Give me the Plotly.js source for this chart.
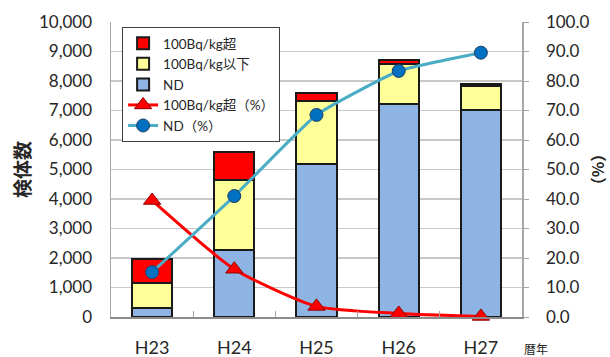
<!DOCTYPE html>
<html>
<head>
<meta charset="utf-8">
<script src="https://cdn.plot.ly/plotly-3.0.1.min.js"></script>
<style>html,body{margin:0;padding:0;background:#fff;}#chart{width:610px;height:357px;}</style>
</head>
<body>
<div id="chart"></div>
<script>
// Data
const years = ['H23', 'H24', 'H25', 'H26', 'H27'];
const ndCount = [300, 2260, 5200, 7230, 7030];
const below100Count = [850, 2400, 2130, 1360, 810];
const over100Count = [830, 950, 270, 110, 70];
const over100Pct = [39.5, 16.2, 3.6, 1.2, 0.2];
const ndPct = [15.2, 41.0, 68.5, 83.4, 89.6];

const labelFont = {family: 'Lato, "Noto Sans CJK JP", sans-serif', size: 17, color: '#262626'};
const cjk = '"Noto Sans CJK JP", sans-serif';

const barLine = {color: '#1a1a1a', width: 2};

const traces = [
  {type: 'bar', x: years, y: ndCount, name: 'ND', legendrank: 3,
   marker: {color: '#8DB4E2', line: barLine}, width: 0.49},
  {type: 'bar', x: years, y: below100Count, name: '100Bq/kg以下', legendrank: 2,
   marker: {color: '#FFFF99', line: barLine}, width: 0.49},
  {type: 'bar', x: years, y: over100Count, name: '100Bq/kg超', legendrank: 1,
   marker: {color: '#FF0000', line: barLine}, width: 0.49},
  {type: 'scatter', mode: 'lines+markers', x: years, y: over100Pct, yaxis: 'y2',
   name: '100Bq/kg超（%）', legendrank: 4, cliponaxis: false,
   line: {color: '#FF0000', width: 3, shape: 'spline', smoothing: 0.6},
   marker: {symbol: 'triangle-up', size: 15, color: '#FF0000', line: {color: '#8B0000', width: 1}}},
  {type: 'scatter', mode: 'lines+markers', x: years, y: ndPct, yaxis: 'y2',
   name: 'ND（%）', legendrank: 5, cliponaxis: false,
   line: {color: '#4BACC6', width: 3, shape: 'spline', smoothing: 0.4},
   marker: {symbol: 'circle', size: 13, color: '#0070C0', line: {color: '#1F3F66', width: 1}}}
];

const layout = {
  width: 610, height: 357,
  margin: {l: 111, r: 88, t: 22, b: 40, pad: 0},
  paper_bgcolor: '#fff', plot_bgcolor: '#fff',
  barmode: 'stack',
  showlegend: true,
  legend: {
    x: 0.027, y: 0.983, xanchor: 'left', yanchor: 'top',
    bgcolor: '#fff', bordercolor: '#404040', borderwidth: 1,
    font: {family: 'Lato, ' + cjk, size: 13.5, color: '#262626'},
    traceorder: 'normal', tracegroupgap: 0, itemwidth: 30
  },
  xaxis: {
    type: 'category', tickfont: {family: labelFont.family, size: 18, color: '#262626'},
    showgrid: false, showline: true, linecolor: '#8c8c8c', linewidth: 2,
    ticks: 'inside', tickson: 'boundaries', ticklen: 6, tickcolor: '#a6a6a6', tickwidth: 1,
    ticklabelstandoff: 13, fixedrange: true
  },
  yaxis: {
    range: [0, 10000], dtick: 1000, tickformat: ',d', tickfont: labelFont,
    showgrid: true, gridcolor: '#c8c8c8', gridwidth: 1.5,
    showline: true, linecolor: '#a6a6a6', linewidth: 1.5,
    zeroline: false, ticks: '', ticklabelstandoff: 14,
    title: {text: '検体数', font: {family: cjk, size: 19, color: '#262626', weight: 'bold'}, standoff: 3}
  },
  yaxis2: {
    range: [0, 100], dtick: 10, tickformat: '.1f', tickfont: labelFont,
    overlaying: 'y', side: 'right', showgrid: false,
    showline: true, linecolor: '#a6a6a6', linewidth: 1.5,
    ticks: 'outside', ticklen: 5, tickcolor: '#a6a6a6', zeroline: false,
    ticklabelstandoff: 14,
    title: {text: '（%）', font: {family: cjk, size: 16, color: '#262626', weight: 'bold'}, standoff: 4}
  },
  annotations: [
    {text: '暦年', xref: 'paper', yref: 'paper', x: 1.0, y: -0.108, xanchor: 'left', yanchor: 'middle',
     showarrow: false, font: {family: cjk, size: 12, color: '#262626'}}
  ]
};

Plotly.newPlot('chart', traces, layout, {displayModeBar: false, staticPlot: true});
</script>
</body>
</html>
